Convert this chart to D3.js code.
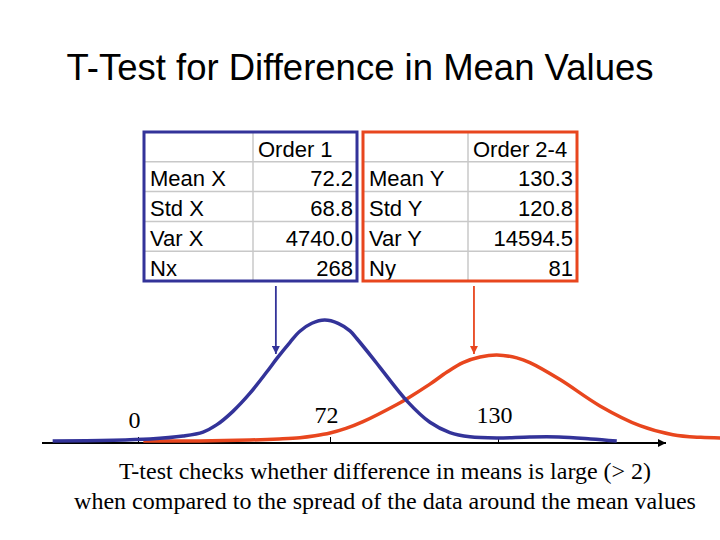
<!DOCTYPE html>
<html>
<head>
<meta charset="utf-8"/>
<script src="https://cdn.jsdelivr.net/npm/d3@7"></script>
<title>T-Test for Difference in Mean Values</title>
<style>
body { margin: 0; background: #fff; }
svg { display: block; }
</style>
</head>
<body>
<script>
// table contents
var rowLabelsX = ["Mean X", "Std X", "Var X", "Nx"];
var rowLabelsY = ["Mean Y", "Std Y", "Var Y", "Ny"];
var valuesX = [72.2, 68.8, 4740.0, 268];
var valuesY = [130.3, 120.8, 14594.5, 81];
var decimals = [1, 1, 1, 0];
var headers = ["Order 1", "Order 2-4"];

// axis ticks
var tickValues = [0, 72, 130];

// curves: x in data units, height relative to blue peak
var blueX = [-32, 4.5, 16.9, 24.4, 29.6, 35.6, 42, 48.4, 52.1, 57, 60.7, 65.2, 70, 74.8, 78.9, 81.3, 86.8, 89.3, 98.6, 106.5, 113.4, 120.3, 129.6, 141, 151, 162, 171];
var blueH = [0, 0.017, 0.041, 0.074, 0.135, 0.245, 0.395, 0.574, 0.683, 0.816, 0.907, 0.973, 1.0, 0.973, 0.91, 0.845, 0.683, 0.607, 0.33, 0.155, 0.07, 0.035, 0.025, 0.033, 0.033, 0.017, 0];
var redX = [2, 23, 42, 53, 60.7, 66.4, 72, 77.5, 83.4, 95.1, 98.6, 106.5, 112.4, 117.9, 123.8, 129.6, 136.5, 141, 151.4, 165.2, 179, 190.4, 200, 207];
var redH = [0, 0, 0.008, 0.017, 0.027, 0.043, 0.066, 0.104, 0.16, 0.302, 0.35, 0.47, 0.57, 0.648, 0.694, 0.711, 0.687, 0.648, 0.508, 0.29, 0.127, 0.052, 0.03, 0.025];

// where the arrows from the tables point (data units)
var arrowX = [51.7, 121.7];

var blue = "#333399", red = "#e8461e";

var svg = d3.select("body").append("svg")
  .attr("width", 720)
  .attr("height", 540);

svg.append("rect").attr("width", 720).attr("height", 540).attr("fill", "#fff");

var defs = svg.append("defs");
function marker(id, color, w, h) {
  defs.append("marker")
    .attr("id", id)
    .attr("viewBox", "0 0 10 10")
    .attr("refX", 10).attr("refY", 5)
    .attr("markerUnits", "userSpaceOnUse")
    .attr("markerWidth", w).attr("markerHeight", h)
    .attr("orient", "auto")
    .append("path").attr("d", "M0,0L10,5L0,10z").attr("fill", color);
}
marker("arrBlack", "#000", 10, 8);
marker("arrBlue", blue, 9, 8);
marker("arrRed", red, 9, 8);

// title
svg.append("text")
  .attr("x", 360).attr("y", 80)
  .attr("text-anchor", "middle")
  .style("font-family", "Arial, 'Liberation Sans', sans-serif")
  .style("font-size", "36.5px")
  .text("T-Test for Difference in Mean Values");

// tables
var rowScale = d3.scaleBand().domain(d3.range(5)).range([132, 281]);
var fmt = function(v, i) { return d3.format("." + decimals[i] + "f")(v); };

function drawTable(x0, x1, xDiv, header, labels, values, color) {
  var g = svg.append("g");
  // grid
  g.selectAll("line.h").data(d3.range(1, 5)).enter().append("line")
    .attr("x1", x0).attr("x2", x1)
    .attr("y1", function(d) { return rowScale(d); })
    .attr("y2", function(d) { return rowScale(d); })
    .attr("stroke", "#c8c8c8").attr("stroke-width", 1.5);
  g.append("line")
    .attr("x1", xDiv).attr("x2", xDiv)
    .attr("y1", 132).attr("y2", 281)
    .attr("stroke", "#c8c8c8").attr("stroke-width", 1.5);
  // text
  var tf = "Arial, 'Liberation Sans', sans-serif";
  g.append("text")
    .attr("x", xDiv + 5).attr("y", rowScale(0) + 25)
    .style("font-family", tf).style("font-size", "22px")
    .text(header);
  g.selectAll("text.lab").data(labels).enter().append("text")
    .attr("x", x0 + 6)
    .attr("y", function(d, i) { return rowScale(i + 1) + 24.5; })
    .style("font-family", tf).style("font-size", "22px")
    .text(function(d) { return d; });
  g.selectAll("text.val").data(values).enter().append("text")
    .attr("x", x1 - 4)
    .attr("y", function(d, i) { return rowScale(i + 1) + 24.5; })
    .attr("text-anchor", "end")
    .style("font-family", tf).style("font-size", "22px")
    .text(fmt);
  // border
  g.append("rect")
    .attr("x", x0).attr("y", 132)
    .attr("width", x1 - x0).attr("height", 149)
    .attr("fill", "none").attr("stroke", color).attr("stroke-width", 3);
}
drawTable(144, 357, 253, headers[0], rowLabelsX, valuesX, blue);
drawTable(363, 577, 468, headers[1], rowLabelsY, valuesY, red);

// scales for the distribution sketch
var x = d3.scaleLinear().domain([0, 72, 130]).range([138, 330, 498]);
var y = d3.scaleLinear().domain([0, 1]).range([441, 320]);
var axisY = 443;

// axis line with arrow
svg.append("line")
  .attr("x1", 42).attr("x2", 666)
  .attr("y1", axisY).attr("y2", axisY)
  .attr("stroke", "#000").attr("stroke-width", 2)
  .attr("marker-end", "url(#arrBlack)");

var axis = svg.append("g")
  .attr("transform", "translate(0," + axisY + ")")
  .call(d3.axisTop(x).tickValues(tickValues).tickSize(6).tickPadding(14).tickFormat(d3.format("d")));
axis.select(".domain").remove();
axis.selectAll(".tick line").attr("stroke", "#000").attr("stroke-width", 1);
axis.selectAll(".tick text")
  .style("font-family", "'Times New Roman', 'Liberation Serif', serif")
  .style("font-size", "24px")
  .attr("fill", "#000")
  .attr("dx", "-4")
  .attr("y", function(d) { return d === 0 ? -15 : -20; });

// curves
var line = d3.line()
  .x(function(d) { return x(d[0]); })
  .y(function(d) { return y(d[1]); })
  .curve(d3.curveCatmullRom.alpha(0.5));

svg.append("path")
  .datum(d3.zip(redX, redH))
  .attr("d", line)
  .attr("fill", "none").attr("stroke", red).attr("stroke-width", 3.5);
svg.append("path")
  .datum(d3.zip(blueX, blueH))
  .attr("d", line)
  .attr("fill", "none").attr("stroke", blue).attr("stroke-width", 3.5);

// arrows from tables to curves
svg.selectAll("line.arrow").data(arrowX).enter().append("line")
  .attr("x1", function(d) { return x(d); })
  .attr("x2", function(d) { return x(d); })
  .attr("y1", 286).attr("y2", 354)
  .attr("stroke", function(d, i) { return i ? red : blue; })
  .attr("stroke-width", 1.8)
  .attr("marker-end", function(d, i) { return i ? "url(#arrRed)" : "url(#arrBlue)"; });

// caption
var caption = ["T-test checks whether difference in means is large (> 2)",
               "when compared to the spread of the data around the mean values"];
svg.selectAll("text.cap").data(caption).enter().append("text")
  .attr("x", 385)
  .attr("y", function(d, i) { return 479 + i * 30; })
  .attr("text-anchor", "middle")
  .style("font-family", "'Times New Roman', 'Liberation Serif', serif")
  .style("font-size", "24px")
  .text(function(d) { return d; });
</script>
</body>
</html>
